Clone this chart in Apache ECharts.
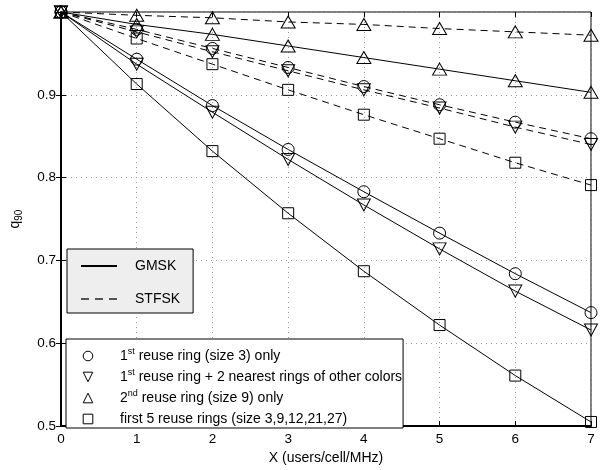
<!DOCTYPE html>
<html>
<head>
<meta charset="utf-8">
<script src="https://cdn.jsdelivr.net/npm/echarts@6/dist/echarts.min.js"></script>
<style>
  html, body { margin: 0; padding: 0; background: #fff; }
  #chart { width: 611px; height: 470px; }
</style>
</head>
<body>
<div id="chart"></div>
<script>
const xs = [0, 1, 2, 3, 4, 5, 6, 7]
const xTicks = ['0', '1', '2', '3', '4', '5', '6', '7']
const yTicks = ['0.5', '0.6', '0.7', '0.8', '0.9']

// GMSK (solid)
const gmskRing1 = [1.0, 0.943, 0.887, 0.834, 0.783, 0.733, 0.684, 0.637]
const gmskRing1Near = [1.0, 0.937, 0.879, 0.822, 0.767, 0.714, 0.663, 0.616]
const gmskRing2 = [1.0, 0.985, 0.973, 0.959, 0.945, 0.931, 0.917, 0.903]
const gmskFirst5 = [1.0, 0.913, 0.832, 0.757, 0.687, 0.622, 0.561, 0.505]

// STFSK (dashed)
const stfskRing1 = [1.0, 0.979, 0.956, 0.933, 0.910, 0.888, 0.867, 0.847]
const stfskRing1Near = [1.0, 0.976, 0.952, 0.929, 0.906, 0.884, 0.861, 0.840]
const stfskRing2 = [1.0, 0.996, 0.993, 0.988, 0.985, 0.980, 0.976, 0.972]
const stfskFirst5 = [1.0, 0.968, 0.937, 0.906, 0.876, 0.847, 0.818, 0.791]

const schemeNames = ['GMSK', 'STFSK']
const markerNames = ['ring1', 'ring1near', 'ring2', 'first5']
const markerLabels = {
  ring1: '1{sup|st} reuse ring (size 3) only',
  ring1near: '1{sup|st} reuse ring + 2 nearest rings of other colors',
  ring2: '2{sup|nd} reuse ring (size 9) only',
  first5: 'first 5 reuse rings (size 3,9,12,21,27)'
}

const downTri = 'path://M0,0L10,0L5,9Z'
const symbols = {
  ring1: { symbol: 'circle', size: 12 },
  ring1near: { symbol: downTri, size: [13, 12] },
  ring2: { symbol: 'triangle', size: [14, 12] },
  first5: { symbol: 'rect', size: 11 }
}

const font = 'Liberation Sans, Arial, sans-serif'
const openMarker = { color: 'rgba(0,0,0,0)', borderColor: '#000', borderWidth: 1 }

const toPoints = (vals) => xs.map((x, i) => [x, vals[i]])

const makeSeries = (name, vals, marker, dashed) => ({
  name: name,
  type: 'line',
  data: toPoints(vals),
  symbol: symbols[marker].symbol,
  symbolSize: symbols[marker].size,
  showAllSymbol: true,
  itemStyle: openMarker,
  lineStyle: { color: '#000', width: 1, type: dashed ? [7, 5] : 'solid' },
  emphasis: { disabled: true },
  z: 3
})

const series = [
  makeSeries('g1', gmskRing1, 'ring1', false),
  makeSeries('g2', gmskRing1Near, 'ring1near', false),
  makeSeries('g3', gmskRing2, 'ring2', false),
  makeSeries('g4', gmskFirst5, 'first5', false),
  makeSeries('s1', stfskRing1, 'ring1', true),
  makeSeries('s2', stfskRing1Near, 'ring1near', true),
  makeSeries('s3', stfskRing2, 'ring2', true),
  makeSeries('s4', stfskFirst5, 'first5', true),
  // legend-only entries
  { name: 'GMSK', type: 'line', data: [], symbol: 'none', itemStyle: { color: '#000' },
    lineStyle: { color: '#000', width: 1 } },
  { name: 'STFSK', type: 'line', data: [], symbol: 'none', itemStyle: { color: '#555' },
    lineStyle: { color: '#555', width: 1, type: [8, 6] } },
  ...markerNames.map(m => ({
    name: m, type: 'line', data: [], symbol: symbols[m].symbol,
    itemStyle: openMarker, lineStyle: { width: 0, opacity: 0 }
  }))
]

const chart = echarts.init(document.getElementById('chart'))

const option = {
  animation: false,
  textStyle: { fontFamily: font },
  grid: { left: 60, right: 20, top: 12, bottom: 40, show: true, borderColor: '#000', borderWidth: 1 },
  xAxis: [{
    type: 'value', min: 0, max: 7, interval: 1,
    name: 'X (users/cell/MHz)', nameLocation: 'middle', nameGap: 21,
    nameTextStyle: { fontSize: 14, color: '#000', fontFamily: font },
    axisLine: { lineStyle: { color: '#000', width: 2 } },
    axisTick: { inside: true, length: 5, lineStyle: { color: '#000' } },
    axisLabel: { color: '#000', fontSize: 13.5, margin: 6, formatter: (v) => xTicks[v] },
    splitLine: { show: true, lineStyle: { color: '#999', type: [1, 4] } }
  }, {
    type: 'value', min: 0, max: 7, interval: 1, position: 'top',
    axisLine: { show: false },
    axisTick: { inside: true, length: 5, lineStyle: { color: '#000' } },
    axisLabel: { show: false }, splitLine: { show: false }
  }],
  yAxis: [{
    type: 'value', min: 0.5, max: 1, interval: 0.1,
    name: 'q{s|90}', nameLocation: 'middle', nameGap: 37,
    nameTextStyle: { fontSize: 14, color: '#000', fontFamily: font,
      rich: { s: { fontSize: 10, padding: [8, 0, 0, 0], fontFamily: font } } },
    axisLine: { lineStyle: { color: '#000', width: 2 } },
    axisTick: { inside: true, length: 5, lineStyle: { color: '#000' } },
    axisLabel: { color: '#000', fontSize: 13.5, margin: 5,
      formatter: (v) => yTicks[Math.round((v - 0.5) * 10)] || '' },
    splitLine: { show: true, lineStyle: { color: '#999', type: [1, 4] } }
  }, {
    type: 'value', min: 0.5, max: 1, interval: 0.1, position: 'right',
    axisLine: { show: false },
    axisTick: { inside: true, length: 5, lineStyle: { color: '#000' } },
    axisLabel: { show: false }, splitLine: { show: false }
  }],
  legend: [{
    data: schemeNames,
    orient: 'vertical',
    left: 67, top: 249,
    padding: [10, 13, 7, 13],
    itemWidth: 36, itemHeight: 14, itemGap: 19,
    backgroundColor: '#eeeeee', borderColor: '#000', borderWidth: 1,
    itemStyle: { opacity: 0 },
    textStyle: { fontSize: 14, lineHeight: 14, color: '#000', fontFamily: font, padding: [0, 0, 0, 13] },
    selectedMode: false
  }, {
    data: markerNames.map(m => ({ name: m })),
    orient: 'vertical',
    left: 66, top: 339,
    padding: [8, 1, 0, 16],
    itemWidth: 12, itemHeight: 12, itemGap: 3,
    backgroundColor: '#fff', borderColor: '#000', borderWidth: 1,
    itemStyle: { color: 'rgba(0,0,0,0)', borderColor: '#000', borderWidth: 1 },
    formatter: (name) => markerLabels[name],
    textStyle: { fontSize: 14, lineHeight: 18, color: '#000', fontFamily: font, padding: [0, 0, 0, 21],
      rich: { sup: { fontSize: 9, lineHeight: 18, padding: [0, 0, 8, 0], fontFamily: font } } },
    selectedMode: false
  }],
  series: series
}

chart.setOption(option)
</script>
</body>
</html>
